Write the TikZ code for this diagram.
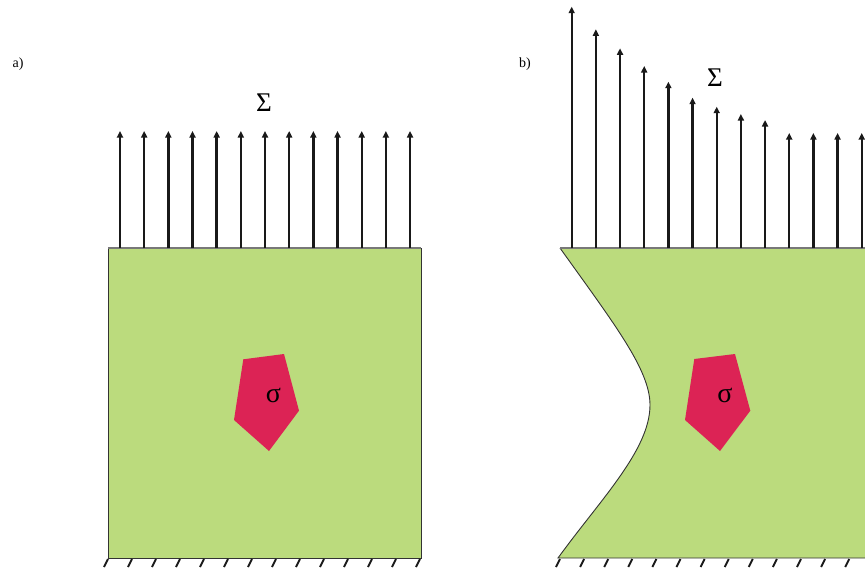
\documentclass[tikz,border=0pt]{standalone}
\usepackage{fontspec}
\setmainfont{Liberation Serif}
\usetikzlibrary{arrows.meta}
\definecolor{plate}{RGB}{187,219,125}
\definecolor{grain}{RGB}{220,35,85}
\definecolor{edgegray}{RGB}{120,120,120}
\tikzset{
  load/.style={line width=2.4pt,black!90,-{Triangle[length=6.5pt,width=6pt]}},
  hatchline/.style={line width=1.9pt,black!90},
  edgeline/.style={line width=0.9pt,black!80},
  topline/.style={line width=1.2pt,edgegray},
  panellabel/.style={font=\fontsize{14}{16}\selectfont,inner sep=0pt},
  sumlabel/.style={font=\fontsize{27}{30}\selectfont,inner sep=0pt},
  grainlabel/.style={font=\fontsize{28}{30}\selectfont,inner sep=0pt}
}
\begin{document}
\begin{tikzpicture}[x=1pt,y=-1pt]
\useasboundingbox (0,0) rectangle (865,570);
\clip (0,0) rectangle (865,570);
% ---------- panel a ----------
\fill[plate] (108,248) rectangle (421,558);
\draw[edgeline] (108,248) -- (108,558) -- (421,558) -- (421,248);
\draw[topline] (108,248) -- (421,248);
\foreach \i in {0,...,12}{
  \coordinate (abase\i) at ({120+24.17*\i},248);
  \coordinate (atip\i) at ({120+24.17*\i},131);
  \draw[load] (abase\i) -- (atip\i);
}
\foreach \i in {0,...,13}{
  \coordinate (ahtop\i) at ({108+24.0*\i},559);
  \coordinate (ahbot\i) at ({104+24.0*\i},567);
  \draw[hatchline] (ahtop\i) -- (ahbot\i);
}
\fill[grain] (243.3,359.3) -- (284,354) -- (299,410.7) -- (269,451) -- (234,420) -- cycle;
\node[grainlabel] (siga) at (273.3,395) {σ};
\node[sumlabel] (Suma) at (264,103) {Σ};
\node[panellabel] (labela) at (18,64) {a)};
% ---------- panel b ----------
\fill[plate] (560,248) .. controls (615,325) and (650,370) .. (650,405)
  .. controls (650,450) and (600,500) .. (558,558) -- (870,558) -- (870,248) -- cycle;
\draw[edgeline] (560,248) .. controls (615,325) and (650,370) .. (650,405)
  .. controls (650,450) and (600,500) .. (558,558) -- (870,558);
\draw[topline] (560,248) -- (870,248);
\foreach \i/\t in {0/6.7,1/29.3,2/48.3,3/66,4/81.7,5/97.7,6/106.7,7/114,8/120,9/133,10/133,11/133,12/133}{
  \coordinate (bbase\i) at ({571.7+24.17*\i},248);
  \coordinate (btip\i) at ({571.7+24.17*\i},\t);
  \draw[load] (bbase\i) -- (btip\i);
}
\foreach \i in {0,...,13}{
  \coordinate (bhtop\i) at ({560+24.1*\i},559);
  \coordinate (bhbot\i) at ({556+24.1*\i},567);
  \draw[hatchline] (bhtop\i) -- (bhbot\i);
}
\fill[grain] (694.3,359) -- (735,354) -- (750.3,410.7) -- (720,451) -- (685,420) -- cycle;
\node[grainlabel] (sigb) at (725,395) {σ};
\node[sumlabel] (Sumb) at (715,78) {Σ};
\node[panellabel] (labelb) at (525,64) {b)};
\end{tikzpicture}
\end{document}
